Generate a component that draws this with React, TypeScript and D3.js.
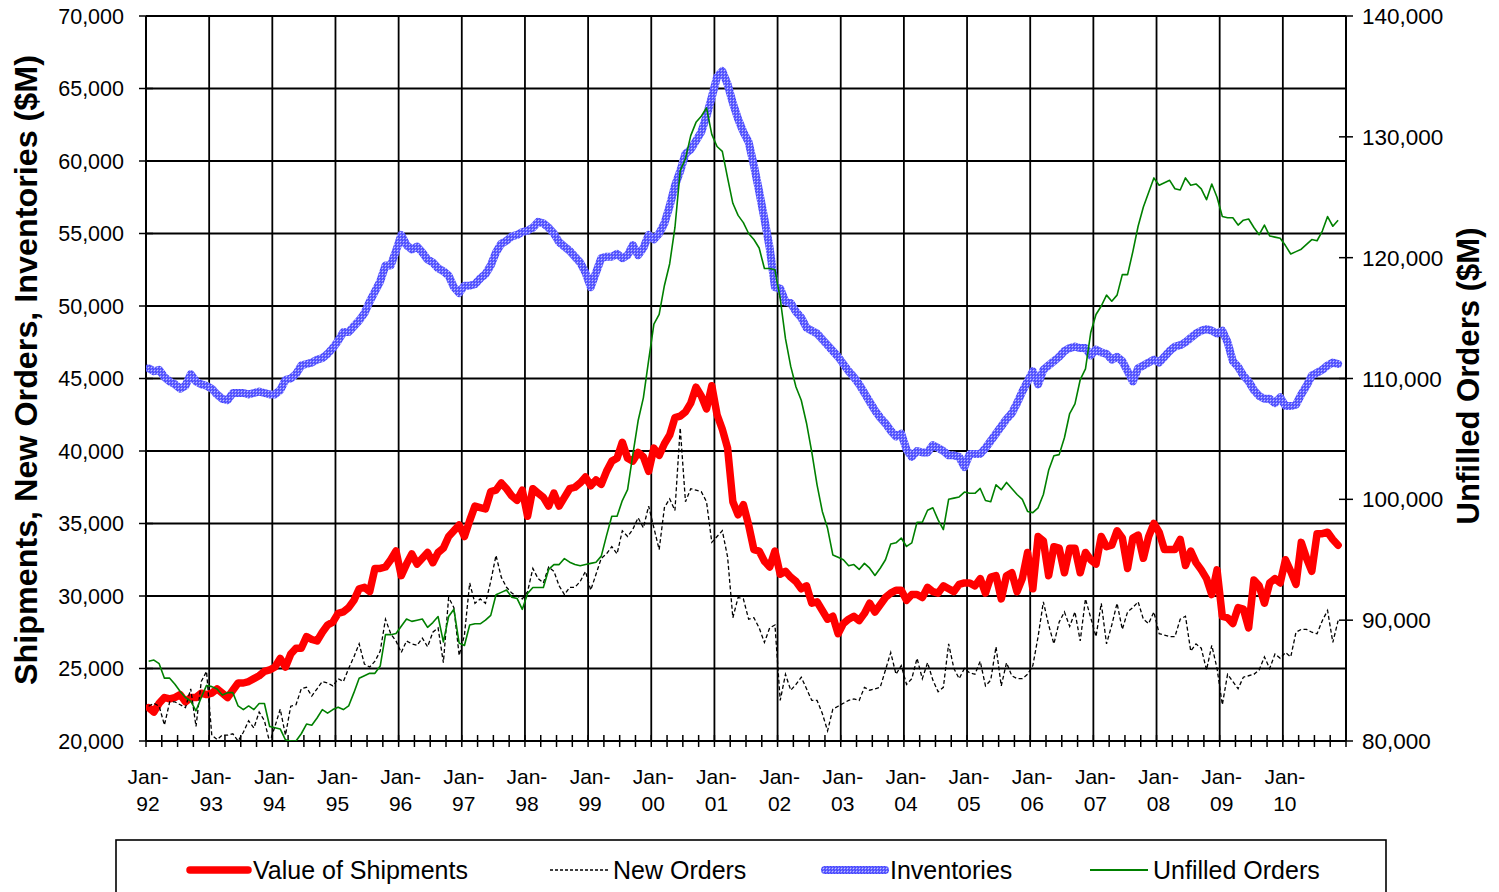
import React from "react";
import * as d3 from "d3";

// Monthly values, Jan-92 .. Nov-10 ($M)
const shipments = [
  22300,22000,22600,23000,22900,23000,23200,22700,23000,23000,23300,23200,
  23300,23600,23300,23000,23500,24000,24000,24100,24300,24500,24800,24900,
  25100,25700,25100,26000,26400,26400,27200,27000,26900,27500,28000,28200,
  28800,28900,29200,29700,30500,30600,30300,31900,31900,32000,32500,33100,
  31400,32200,32900,32200,32600,33000,32300,33000,33300,34100,34500,34900,
  34100,35200,36200,36100,36000,37200,37300,37800,37400,36900,36600,37300,
  35500,37400,37100,36800,36200,37100,36200,36800,37400,37500,37800,38200,
  37600,38000,37700,38600,39300,39500,40600,39500,39300,39900,39600,38600,
  40200,39700,40500,41100,42300,42400,42700,43300,44400,43800,42900,44500,
  42500,41500,40200,36500,35600,36300,34900,33200,33100,32400,32000,33100,
  31500,31700,31300,31000,30500,30700,29500,29600,29000,28400,28600,27400,
  28100,28400,28600,28300,28800,29500,28900,29400,29900,30200,30400,30400,
  29700,30100,30100,29900,30600,30300,30200,30700,30500,30300,30800,30900,
  30900,30700,31200,30200,31300,31400,29800,31400,31600,30300,31200,33000,
  30500,34100,33800,31400,33400,33300,31600,33300,33300,31600,33000,32500,
  32200,34100,33400,33500,34500,34000,31900,34000,34200,32600,34100,35000,
  34400,33200,33200,33200,33900,32100,33100,32300,31800,31200,30100,31800,
  28600,28500,28100,29200,29100,27800,31100,30700,29500,30900,31200,30900,
  32500,31700,30800,33700,32600,31700,34300,34300,34400,33900,33500,
];

const newOrders = [
  22400,22600,22400,21100,22700,22700,22500,22300,23600,21000,24100,24800,
  20400,20100,20400,20400,20500,20000,20600,21400,20900,22000,21400,19900,
  21000,22200,20400,22400,22500,23600,23700,23100,23600,24100,24000,23800,
  24300,24100,25000,25800,26700,25300,25100,25500,26200,28400,27400,26900,
  26100,26900,26700,26600,27100,26500,27500,27800,25400,29900,29200,25900,
  27300,30900,29500,29800,29500,31000,32800,31300,30600,30200,30000,29800,
  30300,31900,31200,30900,32000,31700,30700,30100,30600,30600,31000,31700,
  30400,31500,32600,32900,33400,32900,34500,34100,34600,35400,34700,36200,
  34700,33200,36100,36700,35900,41600,36500,37400,37300,37200,36500,33700,
  34100,34500,32700,28500,29900,29800,28400,28500,27800,26800,27800,28000,
  22800,24600,23500,23900,24400,23600,22800,22800,21900,20700,22200,22400,
  22600,22800,22900,22800,23700,23500,23600,23700,24900,26100,24600,25200,
  23900,24300,25700,24300,25400,24200,23400,23700,26700,25000,24300,25000,
  24700,24600,25500,23800,24200,26500,23800,25400,24500,24300,24300,24600,
  25200,27200,29600,28000,26700,28200,28900,27900,28900,26900,29800,28500,
  27200,29500,26700,28000,29500,27700,28900,29200,29600,28400,28100,28900,
  27400,27300,27200,27200,28400,28600,26200,26700,26400,24900,26600,25000,
  22500,24600,24100,23600,24400,24500,24600,24900,25800,25000,26000,25700,
  26100,25800,27500,27700,27700,27500,27400,28300,29000,26800,28300,
];

const inventories = [
  45700,45500,45600,45100,44800,44600,44300,44500,45300,44800,44600,44500,
  44300,43900,43600,43500,44000,44000,44000,43900,44000,44100,44000,43900,
  43900,44200,44900,45000,45300,45900,46000,46100,46300,46400,46700,47100,
  47600,48200,48200,48600,49000,49500,50300,51000,51700,52800,52800,53800,
  54900,54200,53900,54100,53700,53200,53000,52600,52400,52100,51300,50900,
  51400,51400,51500,51900,52200,52800,53700,54300,54500,54800,54900,55100,
  55200,55400,55800,55700,55400,55000,54400,54100,53800,53400,53000,52300,
  51300,52300,53300,53400,53400,53600,53300,53500,54200,53500,54000,54900,
  54600,55000,55700,56900,58300,59300,60500,60800,61400,62000,63100,64400,
  65800,66200,65300,64000,62900,62000,61300,59700,57900,56000,54000,51300,
  51200,50300,50200,49600,49200,48500,48300,48100,47700,47300,46900,46500,
  46000,45500,45100,44600,44000,43400,42800,42300,41900,41400,41000,41200,
  40100,39600,40000,39900,39900,40400,40200,40000,39700,39700,39600,38900,
  39800,39800,39800,40200,40700,41200,41700,42200,42600,43300,44100,44800,
  45500,44600,45600,45900,46200,46500,46900,47100,47200,47100,47100,46600,
  47000,46800,46700,46300,46500,46200,45500,44800,45700,45900,46100,46300,
  46100,46500,46900,47200,47300,47500,47800,48100,48300,48400,48300,48100,
  48300,47500,46200,45800,45200,44800,44200,43800,43600,43600,43300,43700,
  43100,43100,43200,43900,44500,45200,45400,45600,45900,46100,46000,
];

const unfilledOrders = [
  86600,86700,86400,85200,85200,84700,84100,83600,83300,82500,83600,84600,
  84500,84300,83800,84000,84000,82900,82600,82900,82600,83100,83100,81200,
  81100,81000,80100,80000,80000,80600,81400,81300,81900,82600,82300,82600,
  82800,82600,82900,84000,85200,85400,85600,85600,86200,88800,88800,88900,
  89500,90100,89900,90000,90100,89400,89800,90300,88200,90300,90900,88100,
  87900,89600,89700,89700,90000,90400,92100,92300,92500,91900,91800,90900,
  92200,92700,92700,92700,94200,94600,94600,95100,94800,94600,94500,94600,
  94700,94800,95300,97000,98600,98600,99900,100800,103700,106500,108400,111500,
  114500,115300,117700,119500,122500,127200,128200,130100,131200,131700,132400,130200,
  129200,128800,126600,124500,123500,122900,122000,121500,120800,119100,119100,119000,
  116600,113300,111000,109300,108200,106300,103900,101200,99000,97600,95400,95200,
  95000,94500,94600,94200,94700,94300,93700,94300,95000,96300,96400,96800,
  96100,96400,98100,98100,99100,99300,98300,97500,100000,100100,100200,100600,
  100500,100500,100900,99900,99800,101200,100800,101400,100900,100400,100000,99000,
  98900,99300,100400,102400,103600,103700,105100,107100,107900,109900,110800,113800,
  115300,116000,116900,116400,116900,118600,118600,120500,122600,124200,125400,126600,
  126000,126200,126400,125700,125600,126600,126000,126100,125700,124800,126100,125000,
  123400,123300,123300,122700,123100,123200,122500,121900,122700,121800,121700,121600,
  121000,120300,120500,120700,121100,121500,121400,122200,123400,122600,123100,
];

const yearLabels = ["92","93","94","95","96","97","98","99","00","01","02","03","04","05","06","07","08","09","10"];
const leftTicks = [20000,25000,30000,35000,40000,45000,50000,55000,60000,65000,70000];
const rightTicks = [80000,90000,100000,110000,120000,130000,140000];
const legendLabels = ["Value of Shipments","New Orders","Inventories","Unfilled Orders"];

const FONT = "'Liberation Sans', Arial, Helvetica, sans-serif";

export default function App() {
  const left = 146, right = 1346, top = 16, bottom = 741;
  const totalMonths = 228;
  const x = d3.scaleLinear().domain([0, totalMonths]).range([left, right]);
  const yL = d3.scaleLinear().domain([20000, 70000]).range([bottom, top]);
  const yR = d3.scaleLinear().domain([80000, 140000]).range([bottom, top]);
  const fmt = d3.format(",");

  const lineL = d3.line<number>().x((_, i) => x(i + 0.5)).y((d) => yL(d));
  const lineR = d3.line<number>().x((_, i) => x(i + 0.5)).y((d) => yR(d));

  const yearIdx = d3.range(0, totalMonths + 1, 12);
  const quarterIdx = d3.range(0, totalMonths + 1, 3);

  const legendX = [190, 550, 825, 1090];
  const legendY = 870;

  return (
    <svg
      width={1499}
      height={892}
      style={{ position: "absolute", left: 0, top: 0, background: "#fff" }}
      fontFamily={FONT}
    >
      <defs>
        <pattern id="invPat" width="3" height="3" patternUnits="userSpaceOnUse">
          <rect width="3" height="3" fill="#6a6aff" />
          <rect x="0" y="0" width="1" height="1" fill="#4040ff" />
          <rect x="1" y="1" width="1" height="1" fill="#c4c4ff" />
          <rect x="2" y="2" width="1" height="1" fill="#4040ff" />
        </pattern>
        <clipPath id="plotClip">
          <rect x={left} y={top - 10} width={right - left} height={bottom - top + 10} />
        </clipPath>
      </defs>
      <rect x={0} y={0} width={1499} height={892} fill="#fff" />

      {/* gridlines */}
      {leftTicks.map((t) => (
        <line key={"h" + t} x1={left} x2={right} y1={yL(t)} y2={yL(t)} stroke="#000" strokeWidth={1.8} />
      ))}
      {yearIdx.map((m) => (
        <line key={"v" + m} x1={x(m)} x2={x(m)} y1={top} y2={bottom} stroke="#000" strokeWidth={1.8} />
      ))}

      {/* axis ticks */}
      {quarterIdx.map((m) => (
        <line key={"q" + m} x1={x(m)} x2={x(m)} y1={bottom - 6} y2={bottom + 6} stroke="#000" strokeWidth={1.5} />
      ))}
      {leftTicks.map((t) => (
        <line key={"lt" + t} x1={left - 7} x2={left + 7} y1={yL(t)} y2={yL(t)} stroke="#000" strokeWidth={1.5} />
      ))}
      {rightTicks.map((t) => (
        <line key={"rt" + t} x1={right - 7} x2={right + 7} y1={yR(t)} y2={yR(t)} stroke="#000" strokeWidth={1.5} />
      ))}
      <line x1={left} x2={left} y1={top} y2={bottom} stroke="#000" strokeWidth={2} />
      <line x1={right} x2={right} y1={top} y2={bottom} stroke="#000" strokeWidth={2} />
      <line x1={left} x2={right} y1={bottom} y2={bottom} stroke="#000" strokeWidth={2} />

      {/* series */}
      <g clipPath="url(#plotClip)">
        <path d={lineL(shipments) || ""} fill="none" stroke="#ff0000" strokeWidth={7.5} strokeLinejoin="round" strokeLinecap="round" />
        <path d={lineL(newOrders) || ""} fill="none" stroke="#000" strokeWidth={1.3} strokeDasharray="4 2.5" />
        <path d={lineL(inventories) || ""} fill="none" stroke="url(#invPat)" strokeWidth={8} strokeLinejoin="round" strokeLinecap="round" />
        <path d={lineR(unfilledOrders) || ""} fill="none" stroke="#008000" strokeWidth={1.6} strokeLinejoin="round" />
      </g>

      {/* left tick labels */}
      {leftTicks.map((t) => (
        <text key={"ll" + t} x={124} y={yL(t)} dy="0.36em" textAnchor="end" fontSize={21.5} fill="#000">
          {fmt(t)}
        </text>
      ))}
      {/* right tick labels */}
      {rightTicks.map((t) => (
        <text key={"rl" + t} x={1362} y={yR(t)} dy="0.36em" textAnchor="start" fontSize={22.5} fill="#000">
          {fmt(t)}
        </text>
      ))}
      {/* x labels */}
      {yearLabels.map((yl, k) => (
        <g key={"xl" + yl}>
          <text x={x(k * 12) + 2} y={784} textAnchor="middle" fontSize={21} fill="#000">Jan-</text>
          <text x={x(k * 12) + 2} y={811} textAnchor="middle" fontSize={21} fill="#000">{yl}</text>
        </g>
      ))}

      {/* axis titles */}
      <text
        transform="translate(37,370) rotate(-90)"
        textAnchor="middle"
        fontSize={31}
        fontWeight="bold"
        textLength={630}
        lengthAdjust="spacingAndGlyphs"
        fill="#000"
      >
        Shipments, New Orders,  Inventories ($M)
      </text>
      <text
        transform="translate(1479,376) rotate(-90)"
        textAnchor="middle"
        fontSize={31}
        fontWeight="bold"
        textLength={297}
        lengthAdjust="spacingAndGlyphs"
        fill="#000"
      >
        Unfilled Orders ($M)
      </text>

      {/* legend */}
      <rect x={116} y={840} width={1270} height={70} fill="#fff" stroke="#000" strokeWidth={1.6} />
      <line x1={legendX[0]} x2={legendX[0] + 58} y1={legendY} y2={legendY} stroke="#ff0000" strokeWidth={7.5} strokeLinecap="round" />
      <line x1={legendX[1]} x2={legendX[1] + 58} y1={legendY} y2={legendY} stroke="#000" strokeWidth={1.3} strokeDasharray="3 2" />
      <line x1={legendX[2]} x2={legendX[2] + 60} y1={legendY} y2={legendY} stroke="url(#invPat)" strokeWidth={8} strokeLinecap="round" />
      <line x1={legendX[3]} x2={legendX[3] + 58} y1={legendY} y2={legendY} stroke="#008000" strokeWidth={1.8} />
      {legendLabels.map((l, k) => (
        <text key={l} x={legendX[k] + 63 + (k === 2 ? 2 : 0)} y={legendY} dy="0.36em" fontSize={25} fill="#000">
          {l}
        </text>
      ))}
    </svg>
  );
}
